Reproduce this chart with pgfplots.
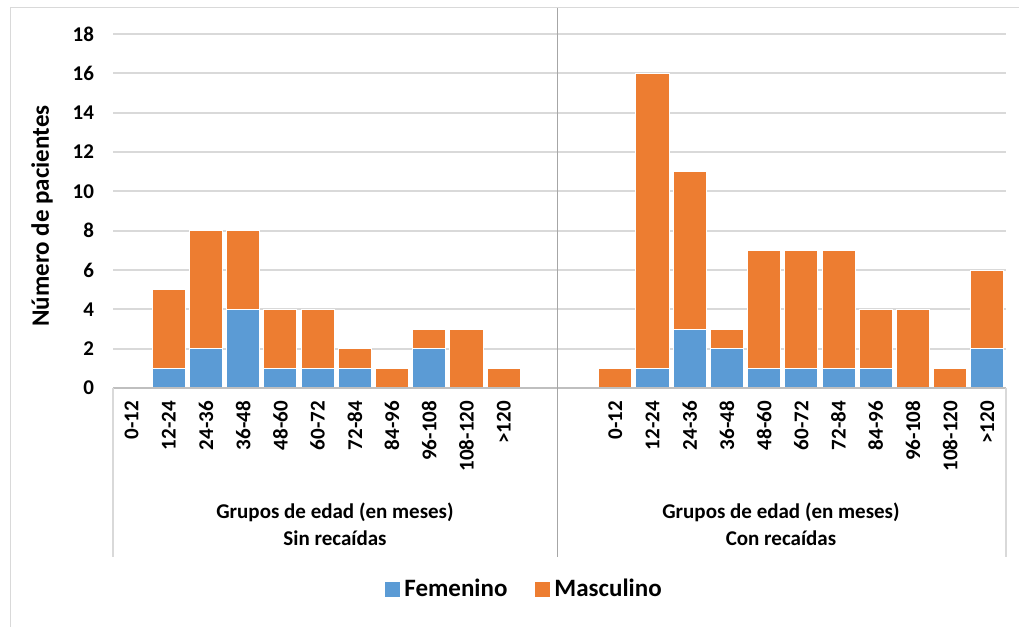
\documentclass[border=0pt]{standalone}
\usepackage{fontspec}
\setmainfont{Carlito}
\usepackage{pgfplots}
\pgfplotsset{compat=1.18}
\definecolor{fem}{HTML}{5B9BD5}
\definecolor{masc}{HTML}{ED7D31}
\definecolor{gridc}{HTML}{D9D9D9}
\definecolor{axc}{HTML}{BFBFBF}
\definecolor{sepc}{HTML}{A6A6A6}

\begin{document}
\begin{tikzpicture}
\begin{scope}[x=0.5pt,y=-0.5pt]
  \path[use as bounding box] (0,0) rectangle (1019,627);
  \draw[gridc, line width=0.7pt] (10.5,627) -- (10.5,7.5) -- (1019,7.5);
\end{scope}
\begin{axis}[
  at={(56.5pt,-194pt)}, anchor=south west,
  scale only axis, width=446.5pt, height=177pt,
  xmin=-0.5, xmax=23.5, ymin=0, ymax=18,
  ybar stacked, bar width=0.89,
  ytick={0,2,...,18},
  xtick={0,1,2,3,4,5,6,7,8,9,10,13,14,15,16,17,18,19,20,21,22,23},
  xticklabels={0-12,12-24,24-36,36-48,48-60,60-72,72-84,84-96,96-108,108-120,>120,
               0-12,12-24,24-36,36-48,48-60,60-72,72-84,84-96,96-108,108-120,>120},
  ymajorgrids, grid style={gridc, line width=1pt},
  axis line style={draw=none},
  major tick length=0pt,
  /pgf/number format/assume math mode=true,
  yticklabel style={font=\fontsize{10.5}{12}\selectfont\bfseries, xshift=-6pt},
  xticklabel style={yshift=-3pt, rotate=90, anchor=east, font=\fontsize{10.5}{12}\selectfont\bfseries},
  legend columns=2,
  legend style={at={(0.462,-0.568)}, anchor=center, draw=none,
    font=\fontsize{12.5}{14}\selectfont\bfseries,
    /tikz/every even column/.append style={column sep=12pt}},
]
% Femenino
\addplot[fill=fem, draw=white, line width=0.5pt,
  legend image code/.code={\fill[fem] (0pt,-3.5pt) rectangle (7pt,3.5pt);}]
  coordinates {
  (0,0) (1,1) (2,2) (3,4) (4,1) (5,1) (6,1) (7,0) (8,2) (9,0) (10,0)
  (13,0) (14,1) (15,3) (16,2) (17,1) (18,1) (19,1) (20,1) (21,0) (22,0) (23,2)};
% Masculino
\addplot[fill=masc, draw=white, line width=0.5pt,
  legend image code/.code={\fill[masc] (0pt,-3.5pt) rectangle (7pt,3.5pt);}]
  coordinates {
  (0,0) (1,4) (2,6) (3,4) (4,3) (5,3) (6,1) (7,1) (8,1) (9,3) (10,1)
  (13,1) (14,15) (15,8) (16,1) (17,6) (18,6) (19,6) (20,3) (21,4) (22,1) (23,4)};
\legend{Femenino, Masculino}
\end{axis}
\begin{scope}[x=0.5pt,y=-0.5pt]
  % baseline and category dividers
  \draw[axc, line width=0.6pt] (113,388) -- (1006,388);
  \draw[gridc, line width=0.7pt] (113,388) -- (113,557);
  \draw[gridc, line width=0.7pt] (1006,388) -- (1006,557);
  \draw[sepc, line width=0.5pt] (557,8) -- (557,557);
  % group captions
  \begin{scope}[every node/.style={anchor=base, font=\fontsize{10.5}{12}\selectfont\bfseries}]
    \node at (335,518) {Grupos de edad (en meses)};
    \node at (335,545) {Sin recaídas};
    \node at (781,518) {Grupos de edad (en meses)};
    \node at (781,545) {Con recaídas};
  \end{scope}
  \node[rotate=90, font=\fontsize{12.5}{14}\selectfont\bfseries] at (42,216) {Número de pacientes};
\end{scope}
\end{tikzpicture}
\end{document}
